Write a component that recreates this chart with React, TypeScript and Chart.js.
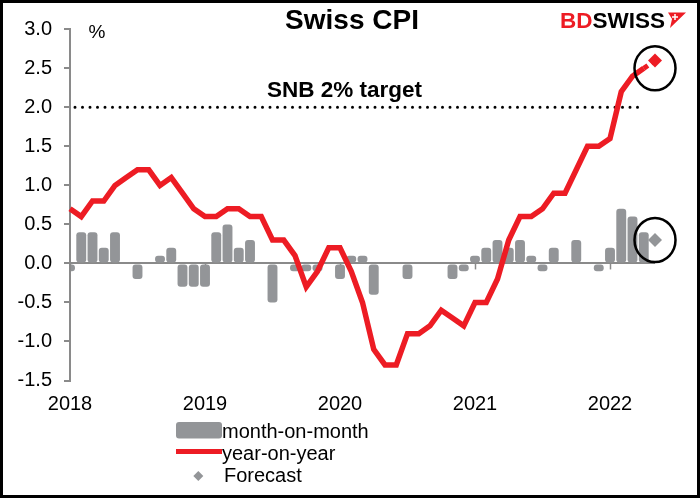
import React, { useEffect, useRef } from "react";
import { Chart, registerables } from "chart.js";

Chart.register(...registerables);

// ---------- data ----------
const years = ["2018", "2019", "2020", "2021", "2022"];
const monthNames = ["Jan", "Feb", "Mar", "Apr", "May", "Jun", "Jul", "Aug", "Sep", "Oct", "Nov", "Dec"];
const categories = years.flatMap((y) => monthNames.map((m) => `${m} ${y}`)).slice(0, 53);

// month-on-month % (Jan 2018 .. Apr 2022), May 2022 is a forecast
const momValues = [
  -0.1, 0.4, 0.4, 0.2, 0.4, 0.0, -0.2, 0.0, 0.1, 0.2, -0.3, -0.3,
  -0.3, 0.4, 0.5, 0.2, 0.3, 0.0, -0.5, 0.0, -0.1, -0.1, -0.1, 0.0,
  -0.2, 0.1, 0.1, -0.4, 0.0, 0.0, -0.2, 0.0, 0.0, 0.0, -0.2, -0.1,
  0.1, 0.2, 0.3, 0.2, 0.3, 0.1, -0.1, 0.2, 0.0, 0.3, 0.0, -0.1,
  0.2, 0.7, 0.6, 0.4, null,
];

// year-on-year %
const yoyValues = [
  0.7, 0.6, 0.8, 0.8, 1.0, 1.1, 1.2, 1.2, 1.0, 1.1, 0.9, 0.7,
  0.6, 0.6, 0.7, 0.7, 0.6, 0.6, 0.3, 0.3, 0.1, -0.3, -0.1, 0.2,
  0.2, -0.1, -0.5, -1.1, -1.3, -1.3, -0.9, -0.9, -0.8, -0.6, -0.7, -0.8,
  -0.5, -0.5, -0.2, 0.3, 0.6, 0.6, 0.7, 0.9, 0.9, 1.2, 1.5, 1.5,
  1.6, 2.2, 2.4, 2.5, null,
];

const forecastYoY = 2.6;
const forecastMoM = 0.3;
const targetLevel = 2.0;
const yTickMin = -1.5;
const yTickMax = 3.0;
const yTickStep = 0.5;

const lastActual = 51;
const forecastIndex = 52;

const yoyForecastLine = categories.map((_, i) =>
  i === lastActual ? yoyValues[lastActual] : i === forecastIndex ? forecastYoY : null
);
const momForecastPoint = categories.map((_, i) => (i === forecastIndex ? forecastMoM : null));
const targetLine = categories.map((_, i) => (i <= lastActual ? targetLevel : null));

// ---------- styles ----------
const RED = "#ED1C24";
const GRAY = "#939598";
const AXIS_GRAY = "#8a8a8a";
const FONT = "'Liberation Sans', Arial, Helvetica, sans-serif";

const overlayPlugin = {
  id: "overlay",
  beforeDatasetsDraw(chart: any) {
    const { ctx, scales } = chart;
    const x = scales.x;
    const y = scales.y;
    const y0 = y.getPixelForValue(0);
    ctx.save();
    ctx.strokeStyle = AXIS_GRAY;
    ctx.lineWidth = 1.5;
    years.forEach((_, k) => {
      const idx = k * 12;
      if (idx >= categories.length) return;
      const px = Math.round(x.getPixelForValue(idx)) + 0.5;
      ctx.beginPath();
      ctx.moveTo(px, y0);
      ctx.lineTo(px, y0 + 6);
      ctx.stroke();
    });
    ctx.restore();
  },
  afterDraw(chart: any) {
    const { ctx, scales, width, height } = chart;
    const x = scales.x;
    const y = scales.y;
    ctx.save();

    // frame
    ctx.strokeStyle = "#000";
    ctx.lineWidth = 3;
    ctx.strokeRect(1.5, 1.5, width - 3, height - 4);

    // title
    ctx.fillStyle = "#000";
    ctx.font = `bold 28px ${FONT}`;
    ctx.textAlign = "center";
    ctx.textBaseline = "alphabetic";
    ctx.fillText("Swiss CPI", 352, 29);

    // unit
    ctx.font = `19px ${FONT}`;
    ctx.textBaseline = "middle";
    ctx.fillText("%", 97, 33);

    // SNB target label
    ctx.font = `bold 22.5px ${FONT}`;
    ctx.textAlign = "left";
    ctx.textBaseline = "alphabetic";
    ctx.fillText("SNB 2% target", 267, y.getPixelForValue(targetLevel) - 10.5);

    // logo
    ctx.font = `bold 22.5px ${FONT}`;
    ctx.fillStyle = RED;
    const bdW = ctx.measureText("BD").width;
    ctx.fillText("BD", 560, 28);
    ctx.fillStyle = "#000";
    const swW = ctx.measureText("SWISS").width;
    ctx.fillText("SWISS", 560 + bdW, 28);
    const lx = 560 + bdW + swW + 1;
    ctx.fillStyle = RED;
    ctx.beginPath();
    ctx.moveTo(lx + 2, 12.5);
    ctx.lineTo(lx + 20, 12.5);
    ctx.lineTo(lx + 4, 28);
    ctx.lineTo(lx + 6, 19);
    ctx.closePath();
    ctx.fill();
    ctx.strokeStyle = "#fff";
    ctx.lineWidth = 1.5;
    ctx.beginPath();
    ctx.moveTo(lx + 9, 14);
    ctx.lineTo(lx + 9, 20);
    ctx.moveTo(lx + 6, 17);
    ctx.lineTo(lx + 12, 17);
    ctx.stroke();

    // forecast circles
    const fx = x.getPixelForValue(forecastIndex);
    ctx.strokeStyle = "#000";
    ctx.lineWidth = 2.5;
    ctx.beginPath();
    ctx.ellipse(fx, y.getPixelForValue(yoyValues[lastActual] as number), 20.5, 22, 0, 0, Math.PI * 2);
    ctx.stroke();
    ctx.beginPath();
    ctx.ellipse(fx, y.getPixelForValue(forecastMoM), 20.5, 22, 0, 0, Math.PI * 2);
    ctx.stroke();

    // legend
    ctx.font = `20px ${FONT}`;
    ctx.textAlign = "left";
    ctx.textBaseline = "alphabetic";
    ctx.fillStyle = GRAY;
    ctx.beginPath();
    (ctx as any).roundRect(176, 422, 46, 16.5, 3);
    ctx.fill();
    ctx.fillStyle = "#000";
    ctx.fillText("month-on-month", 222, 437.5);

    ctx.strokeStyle = RED;
    ctx.lineWidth = 5;
    ctx.lineCap = "butt";
    ctx.beginPath();
    ctx.moveTo(176, 451.5);
    ctx.lineTo(222, 451.5);
    ctx.stroke();
    ctx.fillText("year-on-year", 222, 459.5);

    ctx.fillStyle = GRAY;
    ctx.beginPath();
    ctx.moveTo(198.3 - 5, 476);
    ctx.lineTo(198.3, 471);
    ctx.lineTo(198.3 + 5, 476);
    ctx.lineTo(198.3, 481);
    ctx.closePath();
    ctx.fill();
    ctx.fillStyle = "#000";
    ctx.fillText("Forecast", 224, 481.7);

    ctx.restore();
  },
};

export default function App() {
  const canvasRef = useRef<HTMLCanvasElement | null>(null);

  useEffect(() => {
    document.body.style.margin = "0";
    const canvas = canvasRef.current;
    if (!canvas) return;
    Chart.defaults.font.family = FONT;

    const chart = new Chart(canvas, {
      type: "bar",
      data: {
        labels: categories,
        datasets: [
          {
            type: "line",
            label: "year-on-year forecast",
            data: yoyForecastLine,
            borderColor: RED,
            backgroundColor: RED,
            borderWidth: 5,
            borderDash: [5, 4],
            pointStyle: "rectRot",
            pointRadius: (c: any) => (c.dataIndex === forecastIndex ? 7 : 0),
            pointBackgroundColor: RED,
            pointBorderWidth: 0,
            clip: false,
            order: 0,
          } as any,
          {
            type: "line",
            label: "Forecast",
            data: momForecastPoint,
            showLine: false,
            pointStyle: "rectRot",
            pointRadius: 7,
            pointBackgroundColor: GRAY,
            backgroundColor: GRAY,
            pointBorderWidth: 0,
            clip: false,
            order: 0,
          } as any,
          {
            type: "line",
            label: "year-on-year",
            data: yoyValues,
            borderColor: RED,
            backgroundColor: RED,
            borderWidth: 5.5,
            pointRadius: 0,
            tension: 0,
            order: 1,
          } as any,
          {
            type: "line",
            label: "SNB 2% target",
            data: targetLine,
            borderColor: "#000",
            borderWidth: 3,
            borderDash: [0, 7.5],
            borderDashOffset: 2.5,
            borderCapStyle: "round",
            pointRadius: 0,
            order: 2,
          } as any,
          {
            type: "bar",
            label: "month-on-month",
            data: momValues,
            backgroundColor: GRAY,
            borderRadius: 3,
            borderSkipped: false,
            barPercentage: 0.88,
            categoryPercentage: 1,
            clip: { left: -1, top: false, right: false, bottom: false },
            order: 3,
          } as any,
        ],
      },
      options: {
        animation: false,
        responsive: true,
        maintainAspectRatio: false,
        layout: { padding: { top: 29.3, right: 45, left: 0, bottom: 0 } },
        plugins: {
          legend: { display: false },
          title: { display: false },
          tooltip: { enabled: false },
        },
        scales: {
          x: {
            type: "category",
            offset: false,
            grid: { display: false, drawTicks: false },
            border: { display: false },
            ticks: {
              autoSkip: false,
              maxRotation: 0,
              minRotation: 0,
              padding: 12,
              color: "#000",
              font: { size: 20, family: FONT },
              callback: (_v: any, i: number) => (i % 12 === 0 ? years[i / 12] : ""),
            },
            afterFit: (s: any) => {
              s.height = 118.5;
            },
          },
          y: {
            min: yTickMin,
            max: yTickMax,
            ticks: {
              stepSize: yTickStep,
              padding: 12,
              color: "#000",
              font: { size: 20, family: FONT },
              callback: (v: any) => Number(v).toFixed(1),
            },
            grid: {
              color: (c: any) => (c.tick && c.tick.value === 0 ? AXIS_GRAY : "rgba(0,0,0,0)"),
              tickColor: AXIS_GRAY,
              tickLength: 6,
              lineWidth: 2,
            },
            border: { display: true, color: AXIS_GRAY, width: 2 },
            afterFit: (s: any) => {
              s.width = 70;
            },
          },
        },
      } as any,
      plugins: [overlayPlugin],
    });

    return () => chart.destroy();
  }, []);

  return (
    <div style={{ width: 700, height: 499, position: "relative", background: "#fff" }}>
      <canvas ref={canvasRef} style={{ display: "block" }} />
    </div>
  );
}
